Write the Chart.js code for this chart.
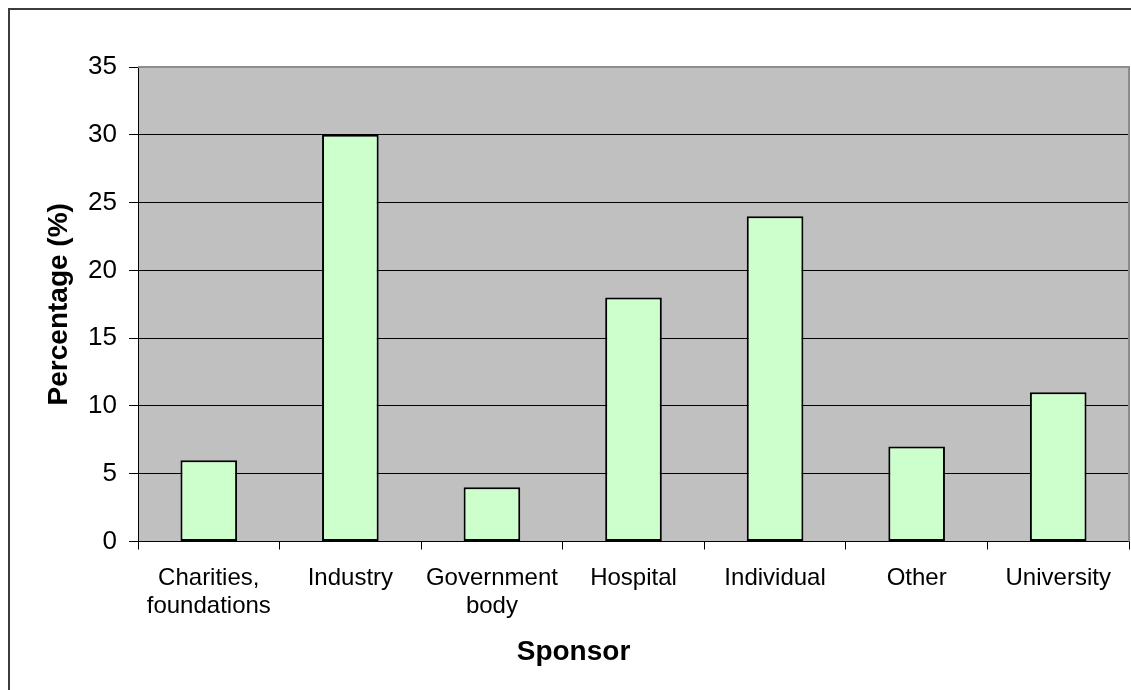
<!DOCTYPE html>
<html>
<head>
<meta charset="utf-8">
<script src="https://cdn.jsdelivr.net/npm/chart.js@4/dist/chart.umd.min.js"></script>
<style>
  html, body { margin: 0; padding: 0; background: #ffffff; }
  #wrap { width: 1131px; height: 690px; position: relative; }
</style>
</head>
<body>
<div id="wrap"><canvas id="c" width="1131" height="690"></canvas></div>
<script>
const categories = [["Charities,", "foundations"], "Industry", ["Government", "body"], "Hospital", "Individual", "Other", "University"];
const percentages = [6, 30, 4, 18, 24, 7, 11];
const yTicks = [0, 5, 10, 15, 20, 25, 30, 35];
const xTitle = "Sponsor";
const yTitle = "Percentage (%)";

const FONT = "'Liberation Sans', Arial, sans-serif";
const TITLE_SIZE = 28;
const TITLE_LH = TITLE_SIZE * 1.2;
const TITLE_PAD_BOTTOM = 20.6;

const framePlugin = {
  id: 'frame',
  beforeDraw(chart) {
    const ctx = chart.ctx;
    ctx.save();
    ctx.fillStyle = '#ffffff';
    ctx.fillRect(0, 0, chart.width, chart.height);
    ctx.strokeStyle = '#3c3c3c';
    ctx.lineWidth = 2;
    ctx.strokeRect(9, 9, chart.width + 50, chart.height + 50);
    const a = chart.chartArea;
    ctx.fillStyle = '#c0c0c0';
    ctx.fillRect(a.left, a.top, a.right - a.left, a.bottom - a.top);
    ctx.restore();
  },
  beforeDatasetsDraw(chart) {
    const ctx = chart.ctx;
    const a = chart.chartArea;
    ctx.save();
    ctx.strokeStyle = '#8c8c8c';
    ctx.lineWidth = 2;
    ctx.beginPath();
    ctx.moveTo(a.left, a.top);
    ctx.lineTo(a.right, a.top);
    ctx.lineTo(a.right, a.bottom);
    ctx.stroke();
    ctx.restore();
  }
};

new Chart(document.getElementById('c'), {
  type: 'bar',
  data: {
    labels: categories,
    datasets: [{
      data: percentages,
      backgroundColor: '#ccffcc',
      borderColor: '#000000',
      borderWidth: 2,
      borderSkipped: false,
      categoryPercentage: 1.0,
      barPercentage: 0.4
    }]
  },
  options: {
    responsive: false,
    animation: false,
    devicePixelRatio: 1,
    layout: { padding: { top: 67, left: 18, right: 2, bottom: 0 } },
    plugins: {
      legend: { display: false },
      tooltip: { enabled: false },
      title: {
        display: true,
        position: 'bottom',
        text: xTitle,
        color: '#000000',
        font: { family: FONT, size: TITLE_SIZE, weight: 'bold', lineHeight: 1.2 },
        padding: { top: 0, bottom: TITLE_PAD_BOTTOM }
      }
    },
    scales: {
      x: {
        grid: {
          display: true,
          drawOnChartArea: false,
          drawTicks: true,
          tickLength: 8,
          color: '#000000',
          offset: true
        },
        border: { display: true, color: '#000000', width: 1 },
        ticks: {
          color: '#000000',
          padding: 14,
          maxRotation: 0,
          autoSkip: false,
          font: { family: FONT, size: 24, lineHeight: 1.2 }
        },
        afterFit(scale) { scale.height = 690 - (TITLE_LH + TITLE_PAD_BOTTOM) - 541.5; }
      },
      y: {
        min: 0,
        max: 35,
        afterBuildTicks(scale) { scale.ticks = yTicks.map(v => ({ value: v })); },
        grid: {
          color: (c) => (c.tick && c.tick.value === 35 ? '#8c8c8c' : '#000000'),
          tickColor: '#000000',
          lineWidth: 1,
          drawTicks: true,
          tickLength: 9
        },
        border: { display: true, color: '#000000', width: 1 },
        ticks: {
          color: '#000000',
          padding: 12,
          font: { family: FONT, size: 26 }
        },
        title: {
          display: true,
          text: yTitle,
          color: '#000000',
          font: { family: FONT, size: TITLE_SIZE, weight: 'bold', lineHeight: 1.2 },
          padding: { top: 24, bottom: 0 }
        },
        afterFit(scale) { scale.width = 120; }
      }
    }
  },
  plugins: [framePlugin]
});
</script>
</body>
</html>
